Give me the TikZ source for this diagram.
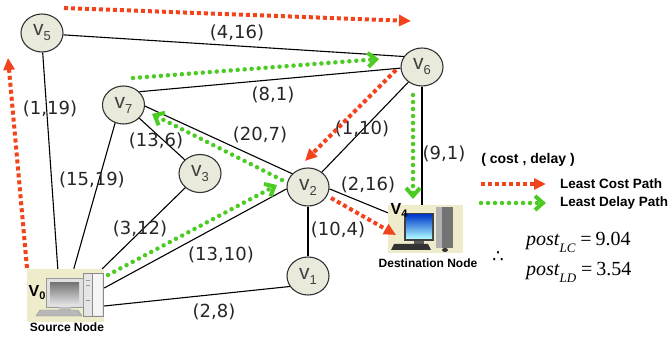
\documentclass[tikz,border=0pt]{standalone}
\usepackage{fontspec}
\setmainfont{DejaVu Sans}
\newfontfamily\lsans{Liberation Sans}
\newfontfamily\lserif{Liberation Serif}
\usetikzlibrary{arrows.meta,shapes.geometric}

\definecolor{nodefill}{HTML}{EAEADC}
\definecolor{nodeline}{HTML}{333333}
\definecolor{costred}{HTML}{F2431C}
\definecolor{delaygreen}{HTML}{4CCC22}
\definecolor{pcbg}{HTML}{EFECCB}

\tikzset{
  vert/.style={ellipse, draw=nodeline, line width=1.1pt, fill=nodefill,
    minimum width=42pt, minimum height=38pt, inner sep=0pt, text=black!75,
    font=\lsans\fontsize{21}{21}\selectfont},
  pcbox/.style={rectangle, fill=pcbg, inner sep=0pt},
  link/.style={line width=1.1pt, black},
  wlabel/.style={font=\fontsize{18}{18}\selectfont, inner sep=1pt, text=black!85},
  boldlabel/.style={font=\lsans\bfseries\fontsize{12}{12}\selectfont, inner sep=0pt},
  legendtext/.style={font=\lsans\bfseries\fontsize{13.5}{13.5}\selectfont, inner sep=0pt, anchor=west},
  costpath/.style={costred, line width=4pt, dash pattern=on 4pt off 3pt,
    -{Triangle[length=12pt,width=11pt]}},
  delaypath/.style={delaygreen, line width=4.5pt, line cap=round, dash pattern=on 0pt off 7pt,
    -{Straight Barb[length=8pt,width=14pt,line width=4pt]}},
}

\newcommand{\vlab}[1]{v\raisebox{-5pt}{\fontsize{13}{13}\selectfont #1}}
\newcommand{\Vlab}[1]{{\lsans\bfseries\fontsize{16}{16}\selectfont V\raisebox{-3pt}{\fontsize{11}{11}\selectfont #1}}}

\begin{document}
\begin{tikzpicture}[x=1pt, y=-1pt]
\useasboundingbox (0,0) rectangle (672,339);

% ---- router nodes ----
\node[vert] (v5) at (42,33)    {\vlab{5}};
\node[vert] (v6) at (422,67)   {\vlab{6}};
\node[vert] (v7) at (123.5,105){\vlab{7}};
\node[vert] (v3) at (200,173.5){\vlab{3}};
\node[vert] (v2) at (308,187)  {\vlab{2}};
\node[vert] (v1) at (308,276)  {\vlab{1}};

% ---- source host ----
\node[pcbox, minimum width=77pt, minimum height=53pt] (v0) at (65.5,295.5) {};
\fill[fill=black!10] (83,273) rectangle (103,316);
\fill[fill=black!4] (92,274) rectangle (102,315);
\draw[black!45, line width=0.5pt] (83,273) rectangle (103,316) (92,273) -- (92,316);
\draw[black!40, line width=0.6pt] (86,280) -- (90,280) (86,285) -- (90,285) (86,300) -- (90,300);
\fill[fill=black!12, draw=black!40, line width=0.5pt] (46,278) rectangle (83,307);
\shade[top color=black!55, bottom color=blue!10!black!15] (50,282) rectangle (79,303);
\fill[black!25] (59,307) rectangle (71,310);
\fill[fill=black!28, draw=black!45, line width=0.4pt] (40,310) -- (78,310) -- (82,316) -- (36,316) -- cycle;
\node[inner sep=0pt] (v0name) at (37,293) {\Vlab{0}};
\node[boldlabel] (v0caption) at (67,327) {Source Node};

% ---- destination host ----
\node[pcbox, minimum width=75pt, minimum height=48pt] (v4) at (425.5,229) {};
\fill[black!75] (404,213) rectangle (434,241);
\shade[top color=blue!70!cyan!80!black, bottom color=cyan!30] (406,215) rectangle (432,239);
\fill[black!65] (414,241) rectangle (424,244);
\fill[black!55] (436,207) rectangle (453,248);
\fill[black!30] (436,207) rectangle (442,248);
\fill[black!80] (394,244) -- (428,244) -- (431,250) -- (391,250) -- cycle;
\fill[black!80] (445,250) ellipse [x radius=3pt, y radius=2pt];
\node[inner sep=0pt] (v4name) at (399,210) {\Vlab{4}};
\node[boldlabel] (v4caption) at (428,263) {Destination Node};

% ---- links ----
\draw[link] (v5.-5)   -- (v6.150);
\draw[link] (v5.-88)  -- ([xshift=31pt]v0.north west);
\draw[link] (v7.40)   -- (v6.183);
\draw[link] (v7.245)  -- ([xshift=47pt]v0.north west);
\draw[link] (v7.-40)  -- (v3.138);
\draw[link] (v7.-3)   -- (v2.140);
\draw[link] (v3.224)  -- ([xshift=-2pt]v0.north east);
\draw[link] (v2.185)  -- ([yshift=7.5pt]v0.east);
\draw[link] (v1.210)  -- ([yshift=-10.5pt]v0.east);
\draw[link] (v2.47)   -- (v6.228);
\draw[link] (v2.south)-- (v1.north);
\draw[link] (v2.-5)   -- ([yshift=-8pt]v4.north west);
\draw[link] (v6.south)-- ([xshift=-3.5pt]v4.north);

% ---- link weights (cost, delay) ----
\node[wlabel] (w56) at (237,33)  {(4,16)};
\node[wlabel] (w50) at (50,109)  {(1,19)};
\node[wlabel] (w76) at (273,95)  {(8,1)};
\node[wlabel] (w70) at (92,180)  {(15,19)};
\node[wlabel] (w73) at (156,141) {(13,6)};
\node[wlabel] (w72) at (260,135) {(20,7)};
\node[wlabel] (w26) at (362,129) {(1,10)};
\node[wlabel] (w64) at (444,154) {(9,1)};
\node[wlabel] (w30) at (140,229) {(3,12)};
\node[wlabel] (w20) at (221,255) {(13,10)};
\node[wlabel] (w24) at (368,185) {(2,16)};
\node[wlabel] (w21) at (338,230) {(10,4)};
\node[wlabel] (w10) at (214,312) {(2,8)};

% ---- least cost path ----
\coordinate (c0) at (27,268);
\coordinate (c1) at (8,58);
\coordinate (c2) at (64,8);
\coordinate (c3) at (411,21);
\coordinate (c4) at (396,70);
\coordinate (c5) at (305,161);
\coordinate (c6) at (331,198);
\coordinate (c7) at (396,235);
\draw[costpath] (c0) -- (c1);
\draw[costpath] (c2) -- (c3);
\draw[costpath] (c4) -- (c5);
\draw[costpath] (c6) -- (c7);

% ---- least delay path ----
\coordinate (d0) at (108,275);
\coordinate (d1) at (277,185);
\coordinate (d2) at (282,180);
\coordinate (d3) at (152,114);
\coordinate (d4) at (133,78);
\coordinate (d5) at (379,59);
\coordinate (d6) at (413,95);
\coordinate (d7) at (413,199);
\draw[delaypath] (d0) -- (d1);
\draw[delaypath] (d2) -- (d3);
\draw[delaypath] (d4) -- (d5);
\draw[delaypath] (d6) -- (d7);

% ---- legend ----
\node[font=\lsans\bfseries\fontsize{14}{14}\selectfont, inner sep=0pt] (legtitle) at (528,160) {( cost , delay )};
\coordinate (lc0) at (481,184);
\coordinate (lc1) at (546,184);
\coordinate (ld0) at (481,203);
\coordinate (ld1) at (546,203);
\draw[costpath] (lc0) -- (lc1);
\draw[delaypath] (ld0) -- (ld1);
\node[legendtext] (legcost) at (560,184) {Least Cost Path};
\node[legendtext] (legdelay) at (560,203) {Least Delay Path};

% ---- posterior values ----
\node[font=\fontsize{18}{18}\selectfont, inner sep=0pt] (therefore) at (498,257) {∴};
\node[anchor=base west, inner sep=0pt, font=\lserif\fontsize{20}{20}\selectfont] (postlc) at (526,245)
  {\itshape post\raisebox{-7pt}{\fontsize{13}{13}\selectfont LC}\upshape\kern5pt=\kern4pt9.04};
\node[anchor=base west, inner sep=0pt, font=\lserif\fontsize{20}{20}\selectfont] (postld) at (526,275)
  {\itshape post\raisebox{-7pt}{\fontsize{13}{13}\selectfont LD}\upshape\kern5pt=\kern4pt3.54};
\end{tikzpicture}
\end{document}
